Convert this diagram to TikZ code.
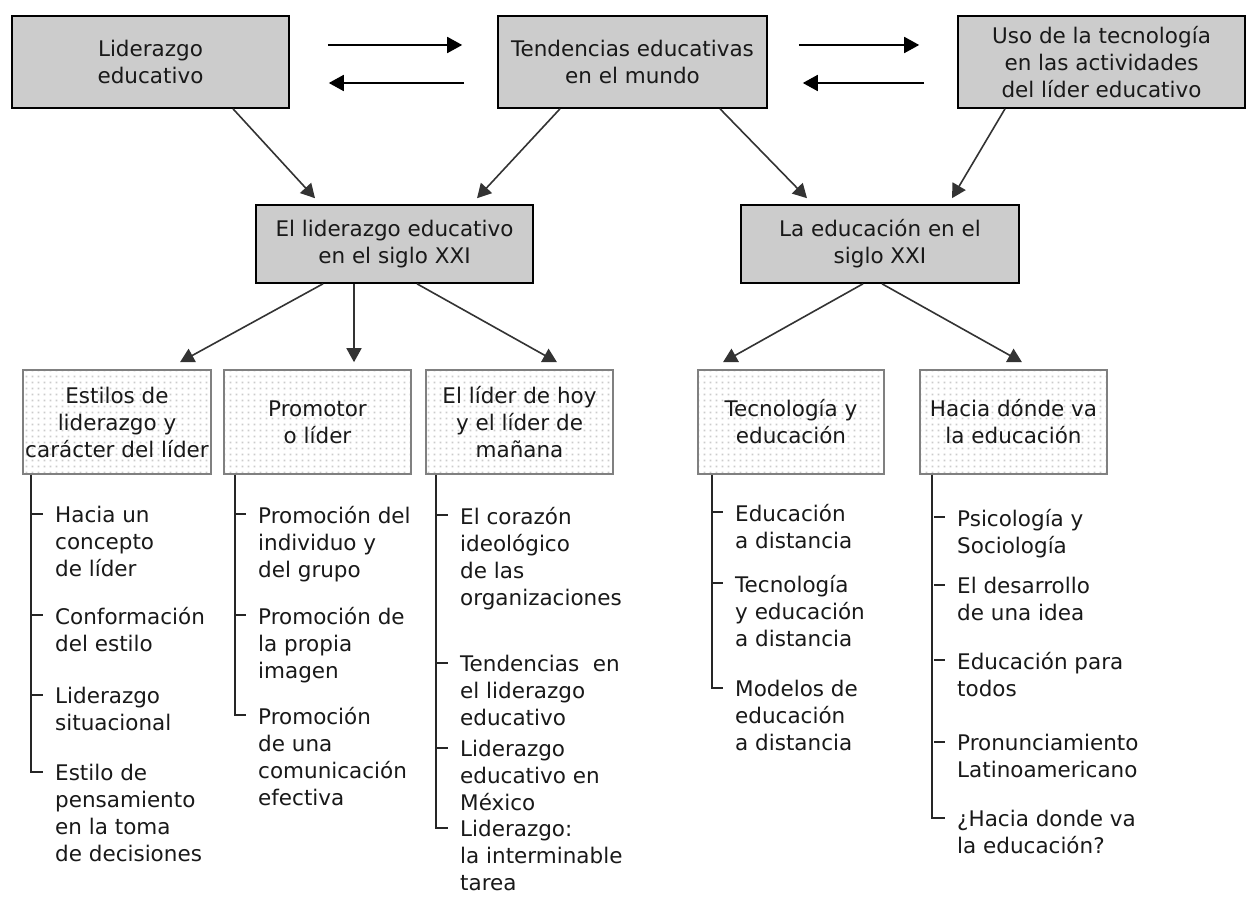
\documentclass[tikz,border=0pt]{standalone}
\usepackage{fontspec}
\setmainfont{DejaVu Sans}
\usetikzlibrary{arrows.meta,patterns}

% light grey dot grid used inside the subtopic boxes
\pgfdeclarepatternformonly{griddots}{\pgfqpoint{0pt}{0pt}}{\pgfqpoint{6pt}{6pt}}{\pgfqpoint{6pt}{6pt}}{%
  \pgfpathrectangle{\pgfqpoint{2pt}{2pt}}{\pgfqpoint{2pt}{2pt}}\pgfusepath{fill}}

\tikzset{
  txt/.style={font=\fontsize{21.5}{27}\selectfont, text=black!90},
  graybox/.style={txt, draw=black, line width=1.6pt, fill=black!20, align=center, inner sep=0pt},
  dotbox/.style={txt, draw=black!50, line width=1.6pt, pattern=griddots, pattern color=black!20,
                 align=center, inner sep=0pt, minimum height=104pt},
  listtext/.style={txt, align=left, anchor=north west, inner sep=0pt},
  flowarrow/.style={draw=black!80, line width=1.6pt, -{Triangle[length=14pt,width=15pt]}},
  pairarrow/.style={draw=black, line width=1.8pt, -{Triangle[length=15pt,width=16pt]}},
  listline/.style={draw=black!85, line width=1.6pt},
}

\begin{document}
\begin{tikzpicture}[x=1pt,y=-1pt]
\useasboundingbox (0,0) rectangle (1253,901);
\fill[white] (0,0) rectangle (1253,901);

% top row
\node[graybox, minimum width=277pt, minimum height=92pt] (lid) at (150.5,62) {Liderazgo\\educativo};
\node[graybox, minimum width=269pt, minimum height=92pt] (ten) at (632.5,62) {Tendencias educativas\\en el mundo};
\node[graybox, minimum width=287pt, minimum height=92pt] (uso) at (1101.5,62) {Uso de la tecnología\\en las actividades\\del líder educativo};

% middle row
\node[graybox, minimum width=277pt, minimum height=78pt] (lsig) at (394.5,244) {El liderazgo educativo\\en el siglo XXI};
\node[graybox, minimum width=278pt, minimum height=78pt] (esig) at (880,244) {La educación en el\\siglo XXI};

% subtopics
\node[dotbox, minimum width=188pt] (est) at (117,422) {Estilos de\\liderazgo y\\carácter del líder};
\node[dotbox, minimum width=187pt] (pro) at (317.5,422) {Promotor\\o líder};
\node[dotbox, minimum width=187pt] (hoy) at (519.5,422) {El líder de hoy\\y el líder de\\mañana};
\node[dotbox, minimum width=186pt] (tec) at (791,422) {Tecnología y\\educación};
\node[dotbox, minimum width=187pt] (hac) at (1013.5,422) {Hacia dónde va\\la educación};

% two-way arrows between the top boxes
\draw[pairarrow] ([shift={(38pt,17pt)}]lid.east) -- ([shift={(-35pt,17pt)}]ten.west);
\draw[pairarrow] ([shift={(-33pt,-21pt)}]ten.west) -- ([shift={(39pt,-21pt)}]lid.east);
\draw[pairarrow] ([shift={(31pt,17pt)}]ten.east) -- ([shift={(-38pt,17pt)}]uso.west);
\draw[pairarrow] ([shift={(-33pt,-21pt)}]uso.west) -- ([shift={(35pt,-21pt)}]ten.east);

% top row to middle row
\draw[flowarrow] ([xshift=82.5pt]lid.south) -- ([shift={(-79.5pt,6pt)}]lsig.north);
\draw[flowarrow] ([xshift=-72.5pt]ten.south) -- ([shift={(82.5pt,6pt)}]lsig.north);
\draw[flowarrow] ([xshift=87.5pt]ten.south) -- ([shift={(-73pt,6pt)}]esig.north);
\draw[flowarrow] ([xshift=-96.5pt]uso.south) -- ([shift={(72pt,6pt)}]esig.north);

% middle row to subtopics
\draw[flowarrow] ([xshift=-71.5pt]lsig.south) -- ([shift={(63pt,7pt)}]est.north);
\draw[flowarrow] ([xshift=-40.5pt]lsig.south) -- ([shift={(36.5pt,7pt)}]pro.north);
\draw[flowarrow] ([xshift=22.5pt]lsig.south) -- ([shift={(37.5pt,7pt)}]hoy.north);
\draw[flowarrow] ([xshift=-17pt]esig.south) -- ([shift={(-68pt,7pt)}]tec.north);
\draw[flowarrow] ([xshift=2pt]esig.south) -- ([shift={(8.5pt,7pt)}]hac.north);

% lists under each subtopic
\node[listtext] (a1) at (55,506) {Hacia un\\concepto\\de líder};
\node[listtext] (a2) at (55,607) {Conformación\\del estilo};
\node[listtext] (a3) at (55,687) {Liderazgo\\situacional};
\node[listtext] (a4) at (55,764) {Estilo de\\pensamiento\\en la toma\\de decisiones};

\node[listtext] (b1) at (258,506) {Promoción del\\individuo y\\del grupo};
\node[listtext] (b2) at (258,607) {Promoción de\\la propia\\imagen};
\node[listtext] (b3) at (258,707) {Promoción\\de una\\comunicación\\efectiva};

\node[listtext] (c1) at (460,507) {El corazón\\ideológico\\de las\\organizaciones};
\node[listtext] (c2) at (460,655) {Tendencias \ en\\el liderazgo\\educativo};
\node[listtext] (c3) at (460,740) {Liderazgo\\educativo en\\México};
\node[listtext] (c4) at (460,820) {Liderazgo:\\la interminable\\tarea};

\node[listtext] (d1) at (735,504) {Educación\\a distancia};
\node[listtext] (d2) at (735,575) {Tecnología\\y educación\\a distancia};
\node[listtext] (d3) at (735,680) {Modelos de\\educación\\a distancia};

\node[listtext] (e1) at (957,509) {Psicología y\\Sociología};
\node[listtext] (e2) at (957,577) {El desarrollo\\de una idea};
\node[listtext] (e3) at (957,652) {Educación para\\todos};
\node[listtext] (e4) at (957,734) {Pronunciamiento\\Latinoamericano};
\node[listtext] (e5) at (957,810) {¿Hacia donde va\\la educación?};

% spines with their end corners
\draw[listline] ([xshift=9pt]est.south west) |- ([shift={(-12pt,-8pt)}]a4.north west);
\draw[listline] ([xshift=12pt]pro.south west) |- ([shift={(-12pt,-8pt)}]b3.north west);
\draw[listline] ([xshift=11pt]hoy.south west) |- ([shift={(-12pt,-8pt)}]c4.north west);
\draw[listline] ([xshift=15pt]tec.south west) |- ([shift={(-12pt,-8pt)}]d3.north west);
\draw[listline] ([xshift=13pt]hac.south west) |- ([shift={(-12pt,-8pt)}]e5.north west);

% ticks for the other entries
\foreach \n in {a1,a2,a3,b1,b2,c1,c2,c3,d1,d2,e1,e2,e3,e4}
  \draw[listline] ([shift={(-23pt,-8pt)}]\n.north west) -- ([shift={(-12pt,-8pt)}]\n.north west);
\end{tikzpicture}
\end{document}
